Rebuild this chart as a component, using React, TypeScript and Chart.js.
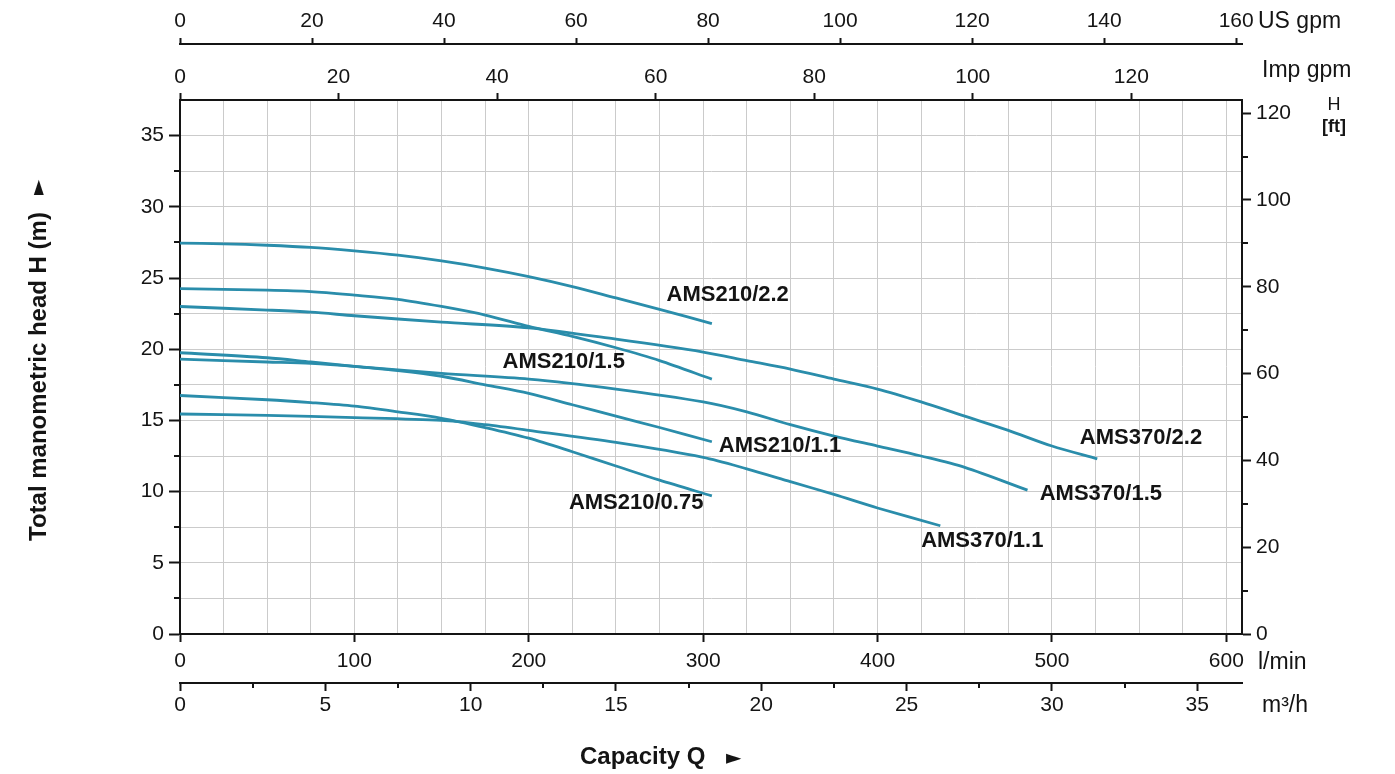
import React, { useEffect, useRef } from 'react';
import { Chart, registerables } from 'chart.js';

Chart.register(...registerables);

// ---- axis ranges / tick values ----
const FLOW_MAX = 609; // l/min at right edge of plot
const HEAD_MAX = 37.5; // m at top edge of plot
const M_TO_FT = 3.28084;
const LMIN_PER_USGPM = 3.78541;
const LMIN_PER_IMPGPM = 4.54609;
const LMIN_TO_M3H = 0.06;

const flowGridTicks = [0, 25, 50, 75, 100, 125, 150, 175, 200, 225, 250, 275, 300, 325, 350, 375, 400, 425, 450, 475, 500, 525, 550, 575, 600];
const headGridTicks = [0, 2.5, 5, 7.5, 10, 12.5, 15, 17.5, 20, 22.5, 25, 27.5, 30, 32.5, 35];
const headMinorTicks = [2.5, 7.5, 12.5, 17.5, 22.5, 27.5, 32.5];
const ftTicks = [0, 20, 40, 60, 80, 100, 120];
const ftMinorTicks = [10, 30, 50, 70, 90, 110];
const m3hTicks = [0, 5, 10, 15, 20, 25, 30, 35];
const m3hMinorTicks = [2.5, 7.5, 12.5, 17.5, 22.5, 27.5, 32.5];
const impTicks = [0, 20, 40, 60, 80, 100, 120];
const usTicks = [0, 20, 40, 60, 80, 100, 120, 140, 160];

// ---- curves (Q in l/min, H in m) ----
const flow210_22 = [0, 25, 50, 75, 100, 125, 150, 175, 200, 225, 250, 275, 305];
const head210_22 = [27.45, 27.4, 27.3, 27.15, 26.9, 26.6, 26.2, 25.7, 25.1, 24.4, 23.6, 22.8, 21.8];

const flow210_15 = [0, 50, 75, 100, 125, 150, 175, 200, 225, 250, 275, 305];
const head210_15 = [24.25, 24.15, 24.05, 23.8, 23.5, 23.0, 22.4, 21.6, 20.9, 20.1, 19.2, 17.9];

const flow370_22 = [0, 50, 75, 100, 150, 200, 250, 300, 325, 350, 375, 400, 425, 450, 475, 500, 526];
const head370_22 = [23.0, 22.75, 22.6, 22.35, 21.9, 21.5, 20.7, 19.8, 19.2, 18.6, 17.9, 17.2, 16.3, 15.3, 14.3, 13.2, 12.3];

const flow210_11 = [0, 50, 75, 100, 125, 150, 175, 200, 225, 250, 275, 305];
const head210_11 = [19.75, 19.4, 19.1, 18.8, 18.5, 18.1, 17.5, 16.9, 16.1, 15.3, 14.5, 13.5];

const flow370_15 = [0, 50, 75, 100, 150, 200, 250, 300, 325, 350, 375, 400, 425, 450, 486];
const head370_15 = [19.3, 19.1, 19.0, 18.8, 18.3, 17.9, 17.2, 16.3, 15.6, 14.7, 13.9, 13.2, 12.5, 11.7, 10.1];

const flow210_075 = [0, 50, 75, 100, 125, 150, 175, 200, 225, 250, 275, 305];
const head210_075 = [16.75, 16.45, 16.25, 16.0, 15.6, 15.15, 14.5, 13.75, 12.8, 11.8, 10.8, 9.7];

const flow370_11 = [0, 50, 100, 150, 175, 200, 250, 300, 325, 350, 375, 400, 436];
const head370_11 = [15.45, 15.35, 15.2, 15.0, 14.7, 14.3, 13.45, 12.4, 11.6, 10.7, 9.8, 8.85, 7.6];

const seriesNames = ['AMS210/2.2', 'AMS210/1.5', 'AMS370/2.2', 'AMS210/1.1', 'AMS370/1.5', 'AMS210/0.75', 'AMS370/1.1'];
const seriesFlows = [flow210_22, flow210_15, flow370_22, flow210_11, flow370_15, flow210_075, flow370_11];
const seriesHeads = [head210_22, head210_15, head370_22, head210_11, head370_15, head210_075, head370_11];

// label anchors (left edge of text), in data units (l/min, m)
const labelFlows = [279, 185, 516, 309, 493, 223, 425];
const labelHeads = [23.8, 19.1, 13.75, 13.2, 9.85, 9.2, 6.55];

const FONT = '"Liberation Sans", Arial, Helvetica, sans-serif';
const LINE_COLOR = '#2a8dab';
const GRID_COLOR = '#cbcbcb';
const INK = '#141414';

const fixedTicks = (values: number[]) => (scale: any) => {
  scale.ticks = values.map((v) => ({ value: v }));
};

const annotPlugin = {
  id: 'annot',
  afterDraw(chart: any) {
    const ctx = chart.ctx as CanvasRenderingContext2D;
    const { x, y, y2, x2, xImp, xUs } = chart.scales;
    ctx.save();
    // minor tick marks
    ctx.strokeStyle = INK;
    ctx.lineWidth = 2;
    ctx.beginPath();
    headMinorTicks.forEach((v) => {
      const p = Math.round(y.getPixelForValue(v));
      ctx.moveTo(y.right - 6, p);
      ctx.lineTo(y.right, p);
    });
    ftMinorTicks.forEach((v) => {
      const p = Math.round(y2.getPixelForValue(v));
      ctx.moveTo(y2.left, p);
      ctx.lineTo(y2.left + 6, p);
    });
    m3hMinorTicks.forEach((v) => {
      const p = Math.round(x2.getPixelForValue(v));
      ctx.moveTo(p, x2.top);
      ctx.lineTo(p, x2.top + 5);
    });
    ctx.stroke();

    // curve labels
    ctx.fillStyle = INK;
    ctx.font = `bold 22px ${FONT}`;
    ctx.textAlign = 'left';
    ctx.textBaseline = 'middle';
    seriesNames.forEach((name, i) => {
      ctx.fillText(name, x.getPixelForValue(labelFlows[i]), y.getPixelForValue(labelHeads[i]));
    });

    // unit labels
    ctx.font = `23px ${FONT}`;
    ctx.fillText('US gpm', xUs.right + 16, xUs.bottom - 22);
    ctx.fillText('Imp gpm', xImp.right + 20, xImp.bottom - 29);
    ctx.fillText('l/min', x.right + 16, x.top + 29);
    ctx.fillText('m³/h', x2.right + 20, x2.top + 23);

    ctx.textAlign = 'center';
    const p120 = y2.getPixelForValue(120);
    ctx.font = `18px ${FONT}`;
    ctx.fillText('H', y2.left + 92, p120 - 8);
    ctx.font = `bold 18px ${FONT}`;
    ctx.fillText('[ft]', y2.left + 92, p120 + 14);

    // axis titles
    ctx.font = `bold 24px ${FONT}`;
    ctx.textAlign = 'left';
    ctx.save();
    ctx.translate(47, 541);
    ctx.rotate(-Math.PI / 2);
    ctx.fillText('Total manometric head H (m)', 0, -8);
    ctx.font = `20px "DejaVu Sans", ${FONT}`;
    ctx.fillText('►', 346, -8);
    ctx.restore();

    ctx.font = `bold 24px ${FONT}`;
    ctx.fillText('Capacity Q', 580, 757);
    ctx.font = `20px "DejaVu Sans", ${FONT}`;
    ctx.fillText('►', 726, 759);
    ctx.restore();
  },
};

const tickFont = { family: FONT, size: 21 };

export default function App() {
  const canvasRef = useRef<HTMLCanvasElement | null>(null);

  useEffect(() => {
    if (!canvasRef.current) return;
    const datasets = seriesNames.map((name, i) => ({
      label: name,
      data: seriesFlows[i].map((q, j) => ({ x: q, y: seriesHeads[i][j] })),
      borderColor: LINE_COLOR,
      backgroundColor: LINE_COLOR,
      borderWidth: 2.8,
      pointRadius: 0,
      tension: 0.3,
      fill: false,
      xAxisID: 'x',
      yAxisID: 'y',
    }));

    const chart = new Chart(canvasRef.current, {
      type: 'line',
      data: { datasets },
      options: {
        animation: false,
        responsive: false,
        devicePixelRatio: 1,
        layout: { padding: 0 },
        plugins: { legend: { display: false }, tooltip: { enabled: false } },
        scales: {
          x: {
            type: 'linear',
            axis: 'x',
            position: 'bottom',
            weight: 0,
            min: 0,
            max: FLOW_MAX,
            afterBuildTicks: fixedTicks(flowGridTicks),
            afterFit: (s: any) => { s.height = 49; },
            ticks: {
              autoSkip: false,
              maxRotation: 0,
              padding: 7,
              font: tickFont,
              color: INK,
              callback: (v: any) => (Number(v) % 100 === 0 ? String(v) : ''),
            },
            grid: {
              color: GRID_COLOR,
              lineWidth: 1,
              tickLength: 8,
              tickWidth: 2,
              tickColor: (c: any) => (c.tick && c.tick.value % 100 === 0 ? INK : 'rgba(0,0,0,0)'),
            },
            border: { display: true, color: INK, width: 2 },
          },
          x2: {
            type: 'linear',
            axis: 'x',
            position: 'bottom',
            weight: 1,
            min: 0,
            max: FLOW_MAX * LMIN_TO_M3H,
            afterBuildTicks: fixedTicks(m3hTicks),
            afterFit: (s: any) => { s.height = 91; },
            ticks: { autoSkip: false, maxRotation: 0, padding: 2, font: tickFont, color: INK },
            grid: { drawOnChartArea: false, tickLength: 8, tickWidth: 2, tickColor: INK },
            border: { display: true, color: INK, width: 2 },
          },
          xImp: {
            type: 'linear',
            axis: 'x',
            position: 'top',
            weight: 0,
            min: 0,
            max: FLOW_MAX / LMIN_PER_IMPGPM,
            afterBuildTicks: fixedTicks(impTicks),
            afterFit: (s: any) => { s.height = 56; },
            ticks: { autoSkip: false, maxRotation: 0, padding: 3, font: tickFont, color: INK },
            grid: { drawOnChartArea: false, tickLength: 7, tickWidth: 2, tickColor: INK },
            border: { display: true, color: INK, width: 2 },
          },
          xUs: {
            type: 'linear',
            axis: 'x',
            position: 'top',
            weight: 1,
            min: 0,
            max: FLOW_MAX / LMIN_PER_USGPM,
            afterBuildTicks: fixedTicks(usTicks),
            afterFit: (s: any) => { s.height = 44; },
            ticks: { autoSkip: false, maxRotation: 0, padding: 4, font: tickFont, color: INK },
            grid: { drawOnChartArea: false, tickLength: 6, tickWidth: 2, tickColor: INK },
            border: { display: true, color: INK, width: 2 },
          },
          y: {
            type: 'linear',
            axis: 'y',
            position: 'left',
            min: 0,
            max: HEAD_MAX,
            afterBuildTicks: fixedTicks(headGridTicks),
            afterFit: (s: any) => { s.width = 180; },
            ticks: {
              autoSkip: false,
              padding: 5,
              font: tickFont,
              color: INK,
              callback: (v: any) => (Number(v) % 5 === 0 ? String(v) : ''),
            },
            grid: {
              color: GRID_COLOR,
              lineWidth: 1,
              tickLength: 11,
              tickWidth: 2,
              tickColor: (c: any) => (c.tick && c.tick.value % 5 === 0 ? INK : 'rgba(0,0,0,0)'),
            },
            border: { display: true, color: INK, width: 2 },
          },
          y2: {
            type: 'linear',
            axis: 'y',
            position: 'right',
            min: 0,
            max: HEAD_MAX * M_TO_FT,
            afterBuildTicks: fixedTicks(ftTicks),
            afterFit: (s: any) => { s.width = 153; },
            ticks: { autoSkip: false, padding: 5, font: tickFont, color: INK },
            grid: { drawOnChartArea: false, tickLength: 9, tickWidth: 2, tickColor: INK },
            border: { display: true, color: INK, width: 2 },
          },
        },
      },
      plugins: [annotPlugin],
    } as any);

    return () => chart.destroy();
  }, []);

  return (
    <div style={{ position: 'absolute', left: 0, top: 0, width: 1395, height: 774, background: '#fff' }}>
      <canvas ref={canvasRef} width={1395} height={774} style={{ display: 'block', width: 1395, height: 774 }} />
    </div>
  );
}
